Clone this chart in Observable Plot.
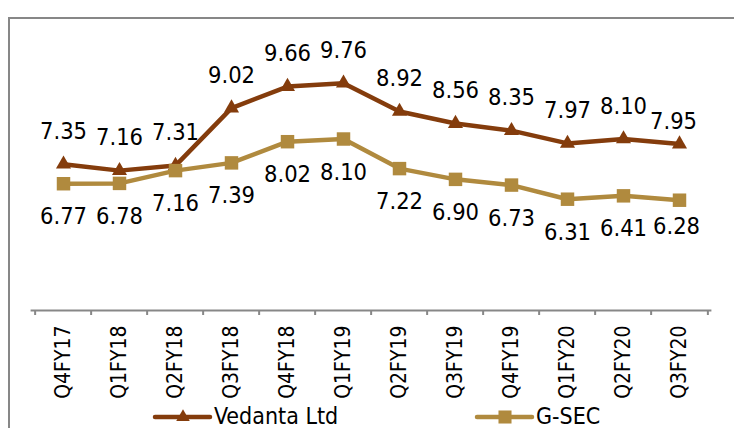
<!DOCTYPE html>
<html>
<head>
<meta charset="utf-8">
<script src="https://cdn.jsdelivr.net/npm/d3@7"></script>
<script src="https://cdn.jsdelivr.net/npm/@observablehq/plot@0.6"></script>
<style>
  html, body { margin: 0; padding: 0; background: #fff; overflow: hidden; }
  #wrap { position: relative; width: 734px; height: 428px; overflow: hidden; }
  #frame { position: absolute; left: 8px; top: 17px; width: 1000px; height: 1000px;
           border: 2px solid #878787; box-sizing: border-box; }
  #chart { position: absolute; left: 0; top: 0; }
  #legend { position: absolute; left: 0; top: 400px; }
</style>
</head>
<body>
<div id="wrap">
  <div id="frame"></div>
  <div id="chart"></div>
  <div id="legend"></div>
</div>
<script>
const categories = ["Q4FY17","Q1FY18","Q2FY18","Q3FY18","Q4FY18","Q1FY19","Q2FY19","Q3FY19","Q4FY19","Q1FY20","Q2FY20","Q3FY20"];
const vedanta = [7.35, 7.16, 7.31, 9.02, 9.66, 9.76, 8.92, 8.56, 8.35, 7.97, 8.10, 7.95];
const gsec    = [6.77, 6.78, 7.16, 7.39, 8.02, 8.10, 7.22, 6.90, 6.73, 6.31, 6.41, 6.28];
const seriesNames = ["Vedanta Ltd", "G-SEC"];

const C_VED = "#843c0c";
const C_GSEC = "#b08a3e";
const FONT = "'DejaVu Sans Condensed', 'DejaVu Sans', sans-serif";

const vedRows = categories.map((c, i) => ({cat: c, value: vedanta[i], i}));
const gsecRows = categories.map((c, i) => ({cat: c, value: gsec[i], i}));
const last = categories.length - 1;

const W = 734, H = 400;
const mL = 30.6, mR = 22.6;
const bw = (W - mL - mR) / categories.length;
const pxPerUnit = (310 - 41) / 8;

const chart = Plot.plot({
  width: W,
  height: H,
  marginLeft: mL,
  marginRight: mR,
  marginTop: 41,
  marginBottom: H - 310,
  style: {fontFamily: FONT, color: "#000", background: "transparent", overflow: "visible"},
  x: {type: "band", domain: categories, padding: 0, label: null},
  y: {domain: [3, 11], axis: null},
  marks: [
    Plot.ruleY([3], {stroke: "#878787", strokeWidth: 2}),
    Plot.ruleX(categories, {x: d => d, dx: -bw / 2, y1: 3, y2: 3 - 5 / pxPerUnit, stroke: "#878787", strokeWidth: 2}),
    Plot.ruleX([categories[last]], {x: d => d, dx: bw / 2, y1: 3, y2: 3 - 5 / pxPerUnit, stroke: "#878787", strokeWidth: 2}),
    Plot.axisX({tickRotate: -90, tickSize: 0, tickPadding: 15, fontSize: 21, fill: "#000", fontFamily: FONT, label: null}),
    Plot.line(vedRows, {x: "cat", y: "value", stroke: C_VED, strokeWidth: 4.5, strokeLinejoin: "round"}),
    Plot.dot(vedRows, {x: "cat", y: "value", symbol: "triangle", r: 5.6, fill: C_VED, stroke: null}),
    Plot.line(gsecRows, {x: "cat", y: "value", stroke: C_GSEC, strokeWidth: 4.5, strokeLinejoin: "round"}),
    Plot.dot(gsecRows, {x: "cat", y: "value", symbol: "square", r: 7.6, fill: C_GSEC, stroke: null}),
    Plot.text(vedRows.filter(d => d.i !== last), {x: "cat", y: "value", text: d => d.value.toFixed(2), dy: -33, fontSize: 23.5, fill: "#000", fontFamily: FONT}),
    Plot.text(vedRows.filter(d => d.i === last), {x: "cat", y: "value", text: d => d.value.toFixed(2), dy: -23, dx: -6, fontSize: 23.5, fill: "#000", fontFamily: FONT}),
    Plot.text(gsecRows.filter(d => d.i !== last), {x: "cat", y: "value", text: d => d.value.toFixed(2), dy: 33, fontSize: 23.5, fill: "#000", fontFamily: FONT}),
    Plot.text(gsecRows.filter(d => d.i === last), {x: "cat", y: "value", text: d => d.value.toFixed(2), dy: 26, dx: -3, fontSize: 23.5, fill: "#000", fontFamily: FONT})
  ]
});
document.getElementById("chart").appendChild(chart);

// Legend (below the plot SVG)
const legend = d3.select("#legend").append("svg")
  .attr("width", W).attr("height", 28)
  .style("font-family", FONT).style("overflow", "visible");
const items = [
  {name: seriesNames[0], color: C_VED, x0: 155, symbol: d3.symbolTriangle, size: 80},
  {name: seriesNames[1], color: C_GSEC, x0: 477, symbol: d3.symbolSquare, size: 170}
];
const ly = 17;
items.forEach(it => {
  const g = legend.append("g");
  g.append("line").attr("x1", it.x0).attr("x2", it.x0 + 55).attr("y1", ly).attr("y2", ly)
    .attr("stroke", it.color).attr("stroke-width", 4.5).attr("stroke-linecap", "round");
  g.append("path").attr("d", d3.symbol(it.symbol, it.size)())
    .attr("transform", `translate(${it.x0 + 28},${ly})`).attr("fill", it.color);
  g.append("text").attr("x", it.x0 + 59).attr("y", 24).attr("font-size", 23).attr("fill", "#000").text(it.name);
});
</script>
</body>
</html>
